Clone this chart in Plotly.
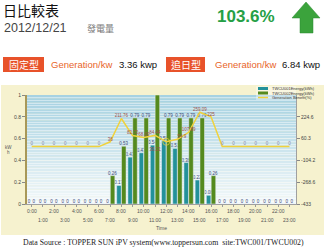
import plotly.graph_objects as go

# ---------------- data ----------------
hours = list(range(24))
hour_labels = [f"{h}:00" for h in hours]
fixed_kwh = [0, 0, 0, 0, 0, 0, 0, 0, 0.17, 0.43, 0.47, 0.54, 0.58, 0.51,
             0.38, 0.22, 0.08, 0, 0, 0, 0, 0, 0, 0]
track_kwh = [0, 0, 0, 0, 0, 0, 0, 0.26, 0.53, 0.79, 0.79, 1.0, 0.79, 0.79,
             0.79, 0.79, 0.26, 0, 0, 0, 0, 0, 0, 0]
benefit = [0, 0, 0, 0, 0, 0, 0, 36, 211.76, 82.72, 68.09, 84.44, 36.21, 54.9,
           107.89, 259.09, 225, 0, 0, 0, 0, 0, 0, 0]
left_ticks = [0, 0.2, 0.4, 0.6, 0.8, 1]
right_ticks = [-433, -268.6, -104.2, 60.3, 224.6]
series_names = ["TWCU001Energy(kWh)", "TWCU002Energy(kWh)", "Generation Benefit(%)"]

W, H = 324, 252
def px(x):
    return x / W
def py(y):
    return 1 - y / H

def fmt(v):
    return "0" if v == 0 else f"{v:.2f}"

def fmt_b(v):
    return "0" if v == 0 else (f"{v:g}")

TEAL = "#23919a"
GREEN = "#558a1e"
YELLOW = "#f0d23c"

pos = []
for h in hours:
    if h == 12:
        pos.append("bottom left")
    elif h == 13:
        pos.append("top right")
    else:
        pos.append("top center")

fig = go.Figure()
fig.add_trace(go.Bar(x=hours, y=fixed_kwh, name=series_names[0], marker_color=TEAL,
                     text=[fmt(v) for v in fixed_kwh], textposition="outside",
                     constraintext="none",
                     textfont=dict(size=4.5, color="#3c4a78", family="Liberation Sans")))
fig.add_trace(go.Bar(x=hours, y=track_kwh, name=series_names[1], marker_color=GREEN,
                     text=[fmt(v) for v in track_kwh], textposition="outside",
                     constraintext="none",
                     textfont=dict(size=4.5, color="#3c4a78", family="Liberation Sans")))
fig.add_trace(go.Scatter(x=hours, y=benefit, name=series_names[2], yaxis="y2",
                         mode="lines+markers+text", line=dict(color=YELLOW, width=1.5),
                         marker=dict(size=[7 if h == 12 else 0 for h in hours],
                                     color="rgba(0,0,0,0)"),
                         text=[fmt_b(v) for v in benefit], textposition=pos,
                         textfont=dict(size=4.5, family="Liberation Sans",
                                       color=["#8a8aa8" if v == 0 else "#a0524a" for v in benefit])))

shapes = []
# beige panel
shapes.append(dict(type="rect", xref="paper", yref="paper", x0=px(1), x1=px(324),
                   y0=py(235), y1=py(85), fillcolor="#f6f2cf", line=dict(width=0), layer="below"))
# plot area gradient
n = 30
c0 = (166, 210, 226)   # top
c1 = (242, 248, 250)   # bottom
for i in range(n):
    t = i / (n - 1)
    col = tuple(int(c0[k] + (c1[k] - c0[k]) * t) for k in range(3))
    shapes.append(dict(type="rect", xref="x domain", yref="y domain", x0=0, x1=1,
                       y0=1 - (i + 1) / n, y1=1 - i / n,
                       fillcolor=f"rgb{col}", line=dict(width=0), layer="below"))
# arrow
ax = [306, 320, 313, 313, 300, 300, 292]
ay = [2, 18, 18, 33, 33, 18, 18]
path = "M " + " L ".join(f"{px(a)},{py(b)}" for a, b in zip(ax, ay)) + " Z"
shapes.append(dict(type="path", xref="paper", yref="paper", path=path,
                   fillcolor="#3ba33c", line=dict(color="#2a8a30", width=0.5)))
# red label boxes
for x0, x1 in [(3, 44), (166, 205)]:
    shapes.append(dict(type="rect", xref="paper", yref="paper", x0=px(x0), x1=px(x1),
                       y0=py(72), y1=py(57), fillcolor="#e8522a", line=dict(width=0)))
# legend box
shapes.append(dict(type="rect", xref="paper", yref="paper", x0=px(256), x1=px(296),
                   y0=py(100), y1=py(86), fillcolor="rgba(255,255,255,0.35)",
                   line=dict(width=0)))
leg_colors = [TEAL, GREEN, YELLOW]
leg_y = [88.5, 93, 97.5]
for i in range(3):
    if i < 2:
        shapes.append(dict(type="rect", xref="paper", yref="paper", x0=px(258), x1=px(268),
                           y0=py(leg_y[i] + 1.5), y1=py(leg_y[i] - 1.5),
                           fillcolor=leg_colors[i], line=dict(width=0)))
    else:
        shapes.append(dict(type="line", xref="paper", yref="paper", x0=px(258), x1=px(268),
                           y0=py(leg_y[i]), y1=py(leg_y[i]),
                           line=dict(color=leg_colors[i], width=1.5)))

ann = []
def txt(x, y, s, size, color="#000", xa="left", family="Liberation Sans", bold=False):
    if bold:
        s = f"<b>{s}</b>"
    ann.append(dict(x=px(x), y=py(y), xref="paper", yref="paper", text=s, showarrow=False,
                    xanchor=xa, yanchor="middle",
                    font=dict(size=size, color=color, family=family)))

CJK = "Noto Sans CJK TC"
txt(1, 10, "日比較表", 14, "#111", family=CJK)
txt(2, 28, "2012/12/21", 12.5, "#444")
txt(85, 28, "發電量", 9, "#777", family=CJK)
txt(246, 17, "103.6%", 17, "#25a045", xa="center", bold=True)
txt(23.5, 64.5, "固定型", 10, "#fff", xa="center", family=CJK)
txt(49, 64.5, "Generation/kw", 9.5, "#e8642a")
txt(117, 64.5, "3.36 kwp", 9.5, "#111")
txt(185.5, 64.5, "追日型", 10, "#fff", xa="center", family=CJK)
txt(213, 64.5, "Generation/kw", 9.5, "#e8642a")
txt(280, 64.5, "6.84 kwp", 9.5, "#111")
for i in range(3):
    txt(270, leg_y[i], series_names[i], 4, "#333")
# x tick labels in two alternating rows
for h in hours:
    ann.append(dict(x=h, xref="x", y=py(211 if h % 2 == 0 else 220), yref="paper",
                    text=hour_labels[h], showarrow=False, xanchor="center", yanchor="middle",
                    font=dict(size=5, color="#555", family="Liberation Sans")))
txt(161, 228, "Time", 5, "#555", xa="center")
txt(8, 147, "kW", 4.5, "#555", xa="center")
txt(8, 152, "h", 4.5, "#555", xa="center")
txt(163, 242, "Data Source : TOPPER SUN iPV system(www.toppersun.com  site:TWC001/TWCU002)",
    7.8, "#222", xa="center", family="Liberation Serif")

fig.update_layout(
    width=W, height=H, margin=dict(l=0, r=0, t=0, b=0),
    paper_bgcolor="white", plot_bgcolor="rgba(0,0,0,0)",
    barmode="group", bargap=0.14, bargroupgap=0.06, showlegend=False,
    shapes=shapes, annotations=ann,
    xaxis=dict(domain=[px(27), px(296)], range=[-0.42, 23.58], tickvals=hours,
               showticklabels=False, ticks="outside", ticklen=2, tickcolor="#999",
               showline=True, linecolor="#a0a0a0", linewidth=1, showgrid=False,
               zeroline=False, fixedrange=True),
    yaxis=dict(domain=[1 - 204 / H, 1 - 95 / H], range=[0, 1], tickvals=left_ticks,
               ticktext=[f"{v:g}" for v in left_ticks], ticks="outside", ticklen=3,
               tickcolor="#888", tickfont=dict(size=5, color="#444", family="Liberation Sans"),
               showline=True, linecolor="#a89858", linewidth=2, showgrid=False,
               zeroline=False, automargin=False,
               minor=dict(dtick=0.025, showgrid=True, gridcolor="rgba(255,255,255,0.45)",
                          gridwidth=0.6)),
    yaxis2=dict(overlaying="y", side="right", range=[-433, 389], tickvals=right_ticks,
                ticktext=[f"{v:g}" for v in right_ticks], ticks="outside", ticklen=3,
                tickcolor="#888", tickfont=dict(size=5, color="#444", family="Liberation Sans"),
                showline=True, linecolor="#a0a0a0", linewidth=1, showgrid=False,
                zeroline=False, automargin=False),
)

fig.write_html("out.html")
